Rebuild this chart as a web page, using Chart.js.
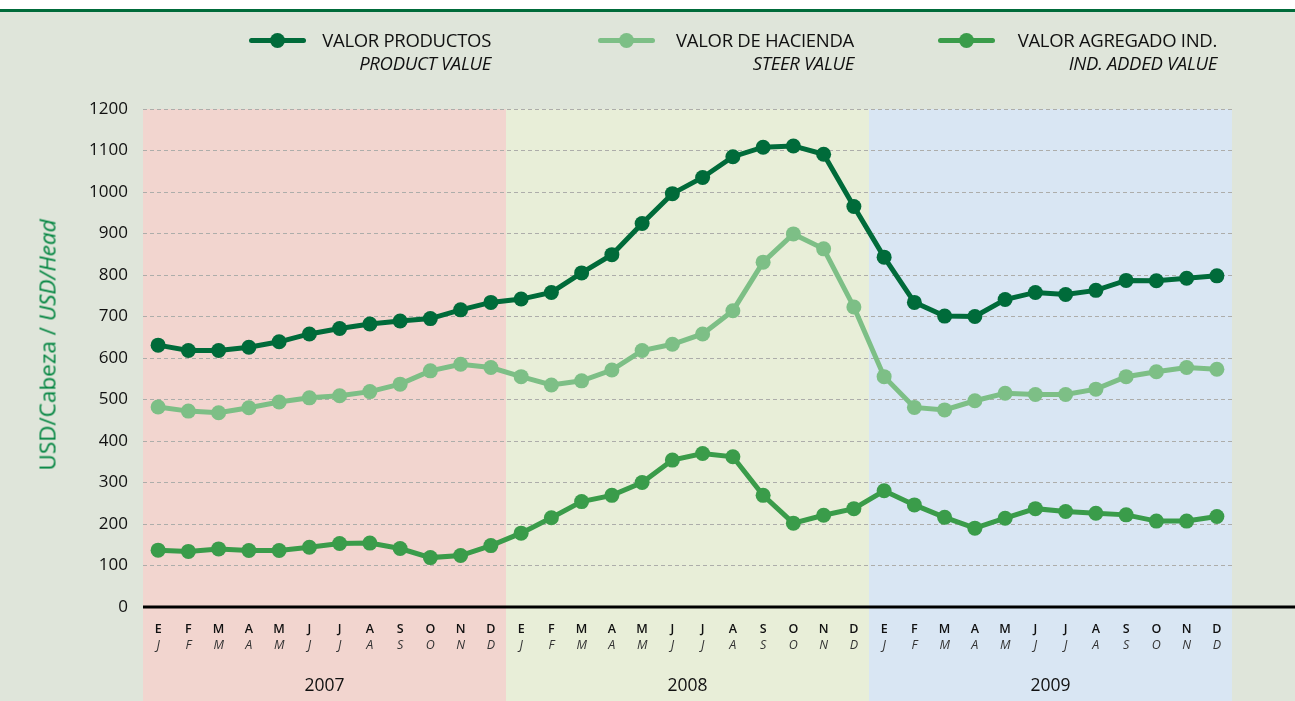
<!DOCTYPE html>
<html>
<head>
<meta charset="utf-8">
<script src="https://cdn.jsdelivr.net/npm/chart.js@4"></script>
<style>
  html, body { margin: 0; padding: 0; }
  body { width: 1295px; height: 701px; position: relative; overflow: hidden; background: #dfe5da; font-family: 'Open Sans', sans-serif; }
  #topband { position: absolute; left: 0; top: 0; width: 1295px; height: 9px; background: #fff; }
  #topline { position: absolute; left: 0; top: 9px; width: 1295px; height: 3px; background: #006b3a; }
  #wrap { position: absolute; left: 0; top: 0; width: 1295px; height: 701px; }
  .leg { position: absolute; top: 28px; text-align: right; color: #111; font-size: 18.5px; line-height: 23px; letter-spacing: -0.3px; }
  .leg i { display: block; }
  .mark { position: absolute; top: 38px; width: 57px; height: 5px; border-radius: 3px; }
  .mark::after { content: ''; position: absolute; left: 21px; top: -5px; width: 15px; height: 15px; border-radius: 50%; background: inherit; }
  #ytitle { position: absolute; left: 47px; top: 345px; transform: translate(-50%, -50%) rotate(-90deg); white-space: nowrap; color: #00843f; font-size: 22.5px; }
</style>
</head>
<body>
<div id="topband"></div>
<div id="topline"></div>
<div id="wrap"><canvas id="chart" width="1295" height="701"></canvas></div>
<div class="mark" style="left:249px;background:#006b3a"></div>
<div class="leg" style="right:804px">VALOR PRODUCTOS<i>PRODUCT VALUE</i></div>
<div class="mark" style="left:598px;background:#7dbf86"></div>
<div class="leg" style="right:441px">VALOR DE HACIENDA<i>STEER VALUE</i></div>
<div class="mark" style="left:938px;background:#3a9c4a"></div>
<div class="leg" style="right:78px">VALOR AGREGADO IND.<i>IND. ADDED VALUE</i></div>
<div id="ytitle">USD/Cabeza / <i>USD/Head</i></div>
<script>
/* global Chart */

const years = ['2007', '2008', '2009']
const monthsEs = ['E', 'F', 'M', 'A', 'M', 'J', 'J', 'A', 'S', 'O', 'N', 'D']
const monthsEn = ['J', 'F', 'M', 'A', 'M', 'J', 'J', 'A', 'S', 'O', 'N', 'D']

const productValue = [
  631, 618, 618, 626, 639, 658, 671, 682, 689, 695, 716, 734,
  742, 758, 805, 849, 924, 996, 1035, 1085, 1108, 1111, 1091, 965,
  843, 734, 701, 700, 741, 758, 753, 763, 787, 786, 792, 798
]
const steerValue = [
  482, 472, 468, 480, 494, 504, 509, 519, 537, 569, 585, 577,
  555, 535, 545, 571, 618, 633, 658, 714, 831, 899, 863, 723,
  555, 481, 475, 497, 515, 512, 512, 525, 555, 567, 577, 573
]
const addedValue = [
  137, 134, 140, 136, 136, 144, 153, 154, 141, 119, 124, 148,
  178, 215, 254, 269, 300, 354, 370, 362, 269, 202, 221, 237,
  280, 246, 216, 190, 214, 237, 230, 226, 222, 207, 207, 218
]
const yTicks = [0, 100, 200, 300, 400, 500, 600, 700, 800, 900, 1000, 1100, 1200]

const yearBands = ['#f2d5cf', '#e8eed8', '#d9e6f3']

const labelsEs = []
const labelsEn = []
years.forEach(() => {
  monthsEs.forEach(m => labelsEs.push(m))
  monthsEn.forEach(m => labelsEn.push(m))
})
const keys = labelsEs.map((m, i) => i)

// year background bands, zero line and year captions
const bandsPlugin = {
  id: 'bands',
  beforeDraw (chart) {
    const { ctx, chartArea } = chart
    const x = chart.scales.x
    const half = (x.getPixelForValue(1) - x.getPixelForValue(0)) / 2
    ctx.save()
    years.forEach((y, i) => {
      const l = x.getPixelForValue(i * 12) - half
      const r = x.getPixelForValue(i * 12 + 11) + half
      ctx.fillStyle = yearBands[i]
      ctx.fillRect(l, chartArea.top, r - l, chart.height - chartArea.top)
    })
    ctx.restore()
  },
  beforeDatasetsDraw (chart) {
    const { ctx, chartArea } = chart
    const y0 = chart.scales.y.getPixelForValue(0)
    ctx.save()
    ctx.strokeStyle = '#000'
    ctx.lineWidth = 3
    ctx.beginPath()
    ctx.moveTo(chartArea.left, y0)
    ctx.lineTo(chart.width, y0)
    ctx.stroke()
    ctx.restore()
  },
  afterDraw (chart) {
    const { ctx } = chart
    const x = chart.scales.x
    ctx.save()
    ctx.font = '17.5px "Open Sans"'
    ctx.fillStyle = '#111'
    ctx.textAlign = 'center'
    ctx.textBaseline = 'middle'
    years.forEach((yr, i) => {
      const c = (x.getPixelForValue(i * 12) + x.getPixelForValue(i * 12 + 11)) / 2
      ctx.fillText(yr, c, 686)
    })
    ctx.restore()
  }
}

const ds = (label, data, color) => ({
  label,
  data,
  borderColor: color,
  backgroundColor: color,
  borderWidth: 5,
  pointRadius: 7.5,
  pointHoverRadius: 7.5,
  pointBorderWidth: 0,
  tension: 0
})

new Chart(document.getElementById('chart'), {
  type: 'line',
  data: {
    labels: keys,
    datasets: [
      ds('VALOR PRODUCTOS', productValue, '#006b3a'),
      ds('VALOR DE HACIENDA', steerValue, '#7dbf86'),
      ds('VALOR AGREGADO IND.', addedValue, '#3a9c4a')
    ]
  },
  options: {
    responsive: false,
    animation: false,
    events: [],
    layout: { padding: { top: 109, right: 63, left: 0, bottom: 0 } },
    plugins: { legend: { display: false }, tooltip: { enabled: false } },
    scales: {
      x: {
        type: 'category',
        offset: true,
        grid: { display: false, drawTicks: false },
        border: { display: false },
        ticks: {
          autoSkip: false,
          maxRotation: 0,
          padding: 15,
          color: '#111',
          font: { family: 'Open Sans', size: 12.5, weight: '600' },
          callback: (v, i) => labelsEs[i]
        },
        afterFit: s => { s.height = 30 }
      },
      x2: {
        type: 'category',
        position: 'bottom',
        offset: true,
        labels: keys,
        grid: { display: false, drawTicks: false },
        border: { display: false },
        ticks: {
          autoSkip: false,
          maxRotation: 0,
          padding: 1,
          color: '#333',
          font: { family: 'Open Sans', size: 12.5, style: 'italic' },
          callback: (v, i) => labelsEn[i]
        },
        afterFit: s => { s.height = 64 }
      },
      y: {
        min: 0,
        max: 1200,
        afterBuildTicks: s => { s.ticks = yTicks.map(v => ({ value: v })) },
        afterFit: s => { s.width = 143 },
        grid: {
          drawTicks: false,
          color: c => c.tick && c.tick.value === 0 ? 'rgba(0,0,0,0)' : '#adadaa',
          lineWidth: 1
        },
        border: { display: false, dash: [4, 3] },
        ticks: {
          padding: 15,
          color: '#111',
          font: { family: 'Open Sans', size: 17 },
          callback: v => String(v)
        }
      }
    }
  },
  plugins: [bandsPlugin]
})
</script>
</body>
</html>
